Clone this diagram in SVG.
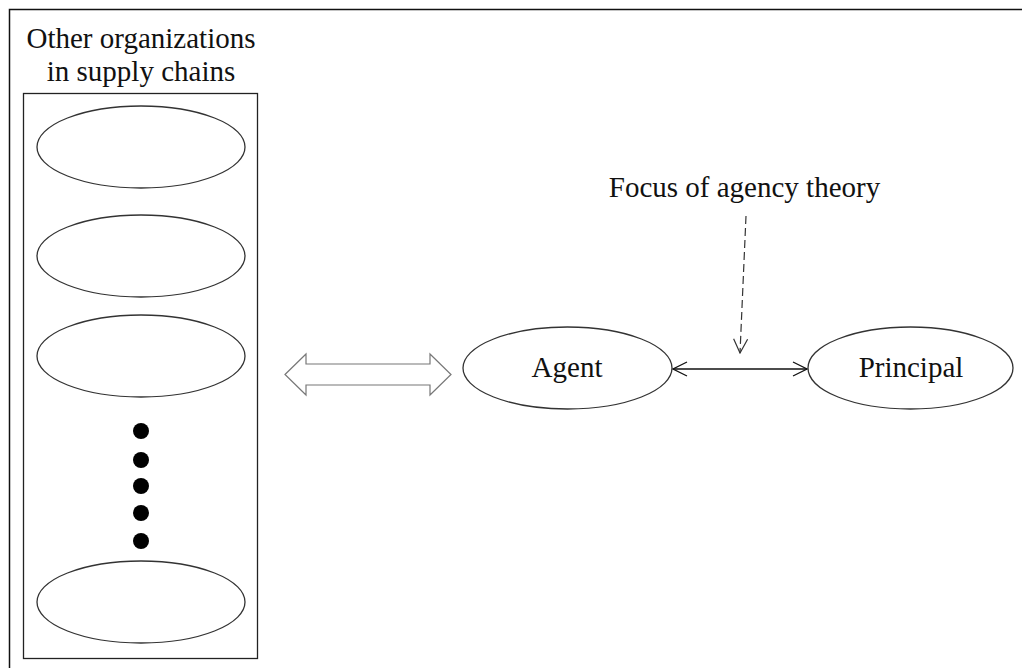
<svg xmlns="http://www.w3.org/2000/svg" width="1022" height="668" viewBox="0 0 1022 668">
  <style>
    .lbl { font-family: "Liberation Serif", "Times New Roman", serif; font-size: 29px; fill: #111; text-anchor: middle; }
    .org { fill: #fff; stroke: #333; stroke-width: 1.3; }
    .node { fill: #fff; stroke: #333; stroke-width: 1.3; }
    .dot { fill: #000; }
    .link { stroke: #111; stroke-width: 1.3; fill: none; }
  </style>
  <defs>
    <marker id="chev" viewBox="0 0 16 16" refX="15" refY="8" markerWidth="16" markerHeight="16" markerUnits="userSpaceOnUse" orient="auto-start-reverse">
      <path d="M1,1 L15,8 L1,15" fill="none" stroke="#111" stroke-width="1.3"/>
    </marker>
    <marker id="chevDash" viewBox="0 0 16 16" refX="15" refY="8" markerWidth="16" markerHeight="16" markerUnits="userSpaceOnUse" orient="auto">
      <path d="M1,1 L15,8 L1,15" fill="none" stroke="#333" stroke-width="1.2"/>
    </marker>
  </defs>
  <rect width="1022" height="668" fill="#fff"/>
  <!-- frame: only the top and left edges fall inside the view -->
  <path d="M9.5,670 V9.5 H1024" fill="none" stroke="#111" stroke-width="1.5"/>

  <g id="supply-chain">
    <text class="lbl" x="141" y="48">Other organizations</text>
    <text class="lbl" x="141" y="81">in supply chains</text>
    <rect x="23.5" y="93.5" width="234" height="565" fill="#fff" stroke="#222" stroke-width="1.3"/>
    <ellipse id="org-1" class="org" cx="141" cy="147" rx="104" ry="41"/>
    <ellipse id="org-2" class="org" cx="141" cy="256" rx="104" ry="41"/>
    <ellipse id="org-3" class="org" cx="141" cy="356" rx="104" ry="41"/>
    <circle class="dot" cx="141" cy="431" r="8"/>
    <circle class="dot" cx="141" cy="460" r="8"/>
    <circle class="dot" cx="141" cy="486" r="8"/>
    <circle class="dot" cx="141" cy="513" r="8"/>
    <circle class="dot" cx="141" cy="541" r="8"/>
    <ellipse id="org-n" class="org" cx="141" cy="602" rx="104" ry="41"/>
  </g>

  <g id="agent">
    <ellipse class="node" cx="567.5" cy="368" rx="104.5" ry="41"/>
    <text class="lbl" x="567" y="377">Agent</text>
  </g>

  <g id="principal">
    <ellipse class="node" cx="910.5" cy="368" rx="102.5" ry="41"/>
    <text class="lbl" x="911" y="377">Principal</text>
  </g>

  <g id="focus-label">
    <text class="lbl" x="744.5" y="197">Focus of agency theory</text>
  </g>

  <g id="connectors">
    <!-- block double arrow between the supply chain and the agent -->
    <polygon points="285,374.5 306,354 306,364 430,364 430,354 451,374.5 430,395 430,385 306,385 306,395" fill="#fff" stroke="#777" stroke-width="1.2"/>
    <!-- agent-principal relationship -->
    <line class="link" x1="673" y1="369" x2="807" y2="369" marker-start="url(#chev)" marker-end="url(#chev)"/>
    <!-- dashed pointer from the label -->
    <line x1="746" y1="216" x2="740" y2="353" stroke="#333" stroke-width="1.2" stroke-dasharray="8,4" marker-end="url(#chevDash)"/>
  </g>
</svg>
